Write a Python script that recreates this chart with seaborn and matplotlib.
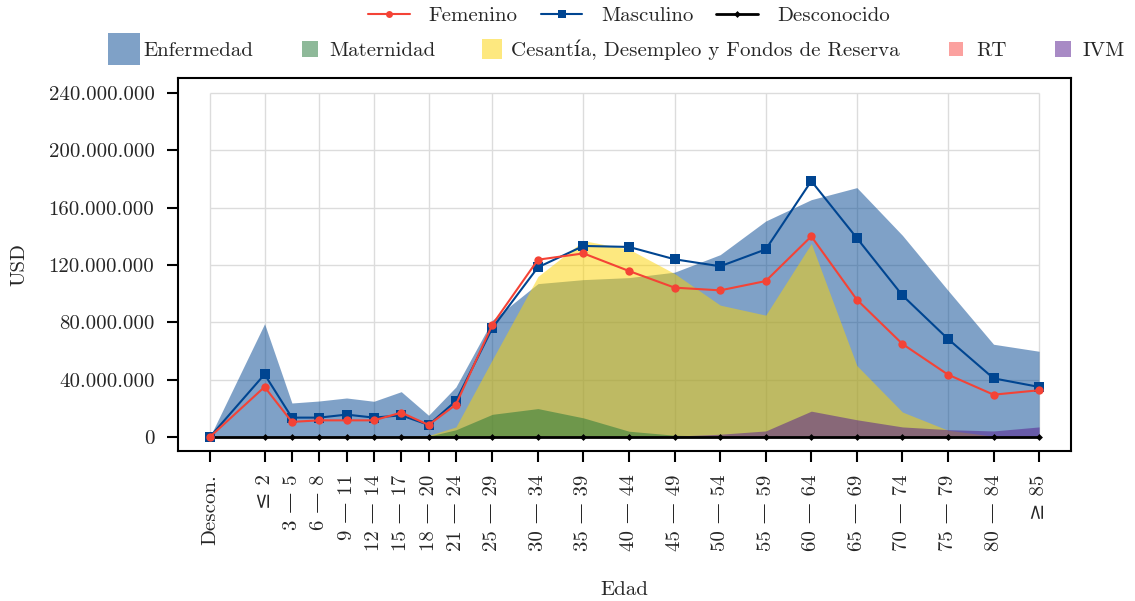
import matplotlib
matplotlib.use('Agg')
import matplotlib.pyplot as plt
import seaborn as sns
import numpy as np
import pandas as pd
from matplotlib.lines import Line2D
from matplotlib.ticker import FuncFormatter, FixedLocator

# ---------------- data (millones de USD) ----------------
grupos = ['Descon.', '≤ 2', '3 — 5', '6 — 8', '9 — 11', '12 — 14', '15 — 17',
          '18 — 20', '21 — 24', '25 — 29', '30 — 34', '35 — 39', '40 — 44',
          '45 — 49', '50 — 54', '55 — 59', '60 — 64', '65 — 69', '70 — 74',
          '75 — 79', '80 — 84', '≥ 85']
edad = [-6, 0, 3, 6, 9, 12, 15, 18, 21, 25, 30, 35, 40, 45, 50, 55, 60, 65,
        70, 75, 80, 85]

femenino = [0, 34.9, 10.5, 11.6, 11.6, 11.6, 17.0, 8.4, 22.6, 78.4, 123.7,
            128.1, 115.8, 104.2, 102.3, 108.8, 140.0, 95.8, 64.9, 43.5, 29.5, 32.6]
masculino = [0, 43.7, 13.5, 13.5, 15.6, 13.5, 15.1, 8.4, 25.1, 76.0, 118.4,
             133.3, 132.6, 124.0, 119.1, 130.9, 178.6, 138.8, 98.8, 68.4, 40.9, 34.9]
desconocido = [0, 0, 0, 0, 0, 0, 0, 0, 0, 0, 0, 0, 0, 0, 0, 0, 0, 0, 0, 0, 0, 0]

enfermedad = [0, 79.0, 23.7, 25.1, 27.2, 24.9, 31.6, 15.1, 34.9, 81.5, 107.0,
              109.8, 111.2, 115.0, 127.2, 150.7, 165.6, 174.0, 140.7, 102.3, 64.7, 59.8]
maternidad = [0, 0, 0, 0, 0, 0, 0, 0.5, 5.0, 15.8, 19.8, 13.3, 4.0, 1.2, 0.5,
              0.3, 0.2, 0.1, 0, 0, 0, 0]
cesantia = [0, 0, 0, 0, 0, 0, 0, 1.0, 7.0, 54.0, 112.0, 137.0, 131.0, 114.0,
            92.0, 85.0, 135.0, 49.8, 17.4, 4.7, 0.5, 0]
rt = [0, 0.2, 0.1, 0.1, 0.1, 0.1, 0.1, 0.1, 0.2, 0.4, 0.5, 0.5, 0.5, 0.4, 0.4,
      0.4, 0.3, 0.2, 0.1, 0.1, 0.1, 0.1]
ivm = [0, 0, 0, 0, 0, 0, 0, 0, 0, 0, 0, 0, 0.3, 0.6, 1.9, 4.2, 18.0, 12.0, 7.0,
       5.1, 4.2, 7.0]

yticks_vals = [0, 40, 80, 120, 160, 200, 240]

# ---------------- style ----------------
sns.set_style('white')
plt.rcParams['font.family'] = ['cmr10', 'DejaVu Serif']
plt.rcParams['font.size'] = 15
plt.rcParams['axes.formatter.use_mathtext'] = True

c_fem = '#F44336'
c_mas = '#004591'
c_des = '#000000'
c_enf = '#004591'
c_mat = '#1F7535'
c_ces = '#FDD300'
c_rt = '#F84440'
c_ivm = '#53178D'

M = 1e6
df = pd.DataFrame({'edad': edad,
                   'Femenino': np.array(femenino) * M,
                   'Masculino': np.array(masculino) * M,
                   'Desconocido': np.array(desconocido) * M})

fig = plt.figure(figsize=(11.35, 6.01), dpi=100)
ax = fig.add_axes([178 / 1135, 1 - 451 / 601, (1071 - 178) / 1135, (451 - 78) / 601])

ax.set_xlim(-9.5, 88.5)
ax.set_ylim(-9.8e6, 250.5e6)

# grid restricted to data area
yt = [v * M for v in yticks_vals]
grid_x = [edad[0]] + [edad[i] for i in range(1, len(edad), 2)]
ax.hlines(yt, edad[0], edad[-1], color='#DCDCDC', lw=1.0, zorder=0)
ax.vlines(grid_x, 0, yt[-1], color='#DCDCDC', lw=1.0, zorder=0)

# areas
for vals, col in [(enfermedad, c_enf), (cesantia, c_ces), (maternidad, c_mat),
                  (rt, c_rt), (ivm, c_ivm)]:
    ax.fill_between(edad, 0, np.array(vals) * M, color=col, alpha=0.5,
                    linewidth=0, zorder=1)

# lines
sns.lineplot(data=df, x='edad', y='Desconocido', ax=ax, color=c_des, marker='D',
             markersize=3.5, markeredgewidth=0, linewidth=2.0, zorder=3)
sns.lineplot(data=df, x='edad', y='Masculino', ax=ax, color=c_mas, marker='s',
             markersize=6.5, markeredgewidth=0, linewidth=1.5, zorder=4)
sns.lineplot(data=df, x='edad', y='Femenino', ax=ax, color=c_fem, marker='o',
             markersize=6, markeredgewidth=0, linewidth=1.5, zorder=5)

# axes
ax.xaxis.set_major_locator(FixedLocator(edad))
ax.set_xticklabels(grupos, rotation=90)
ax.yaxis.set_major_locator(FixedLocator(yt))
ax.yaxis.set_major_formatter(FuncFormatter(lambda v, p: f'{int(round(v)):,}'.replace(',', '.')))
ax.tick_params(axis='both', direction='out', length=8, width=1.5, color='black',
               labelsize=15, bottom=True, left=True, top=False, right=False)
ax.tick_params(axis='x', pad=9)
ax.tick_params(axis='y', pad=9)
for s in ax.spines.values():
    s.set_visible(True)
    s.set_color('black')
    s.set_linewidth(1.5)

ax.set_xlabel('Edad', fontsize=15)
ax.set_ylabel('USD', fontsize=15)
ax.xaxis.set_label_coords(0.5, -0.35)
ax.yaxis.set_label_coords(-0.168, 0.5)

# legends
h1 = [Line2D([], [], color=c_fem, marker='o', markersize=5, markeredgewidth=0, lw=1.5),
      Line2D([], [], color=c_mas, marker='s', markersize=6, markeredgewidth=0, lw=1.5),
      Line2D([], [], color=c_des, marker='D', markersize=3.5, markeredgewidth=0, lw=2.0)]
l1 = fig.legend(h1, ['Femenino', 'Masculino', 'Desconocido'], loc='center',
                bbox_to_anchor=(629 / 1135, 1 - 16 / 601), ncol=3, frameon=False,
                fontsize=15, handlelength=2.0, handletextpad=0.9, columnspacing=1.1,
                borderpad=0, borderaxespad=0)

h2 = [Line2D([], [], linestyle='None', marker='s', markersize=23, color=c_enf, alpha=0.5, markeredgewidth=0),
      Line2D([], [], linestyle='None', marker='s', markersize=12, color=c_mat, alpha=0.5, markeredgewidth=0),
      Line2D([], [], linestyle='None', marker='s', markersize=15, color=c_ces, alpha=0.5, markeredgewidth=0),
      Line2D([], [], linestyle='None', marker='s', markersize=9.5, color=c_rt, alpha=0.5, markeredgewidth=0),
      Line2D([], [], linestyle='None', marker='s', markersize=11.5, color=c_ivm, alpha=0.5, markeredgewidth=0)]
fig.legend(h2, ['Enfermedad', 'Maternidad', 'Cesantía, Desempleo y Fondos de Reserva', 'RT', 'IVM'],
           loc='center', bbox_to_anchor=(619 / 1135, 1 - 50 / 601), ncol=5, frameon=False,
           fontsize=15, handlelength=1.0, handletextpad=0.45, columnspacing=2.2,
           borderpad=0, borderaxespad=0)

fig.savefig('out.png', dpi=100)
